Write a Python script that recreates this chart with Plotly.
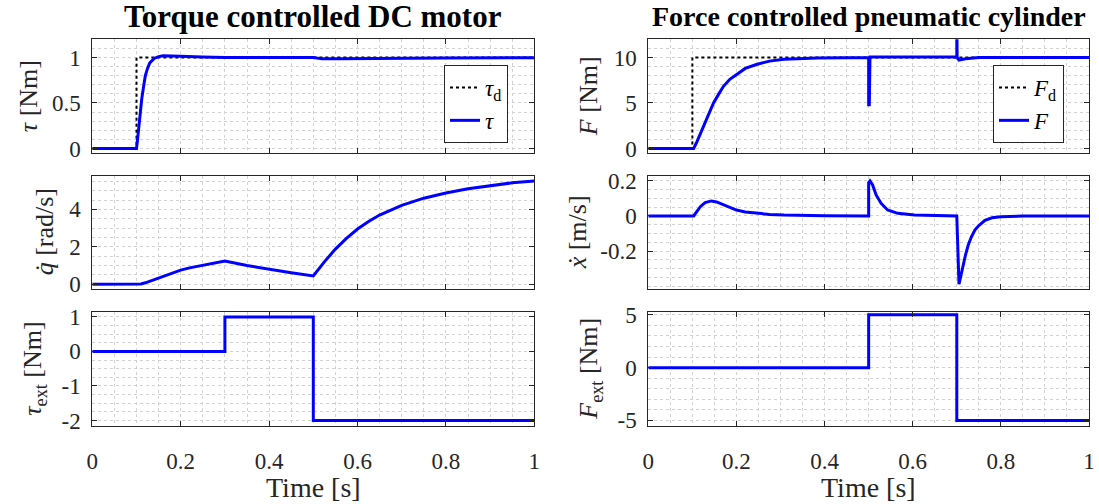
import plotly.graph_objects as go
from plotly.subplots import make_subplots

# ---------------- data ----------------
# Torque controlled DC motor
tau_d_t = [0, 0.1, 0.1, 1.0]
tau_d_v = [0, 0, 1, 1]

tau_t = [0, 0.1, 0.102, 0.105, 0.108, 0.112, 0.116, 0.12, 0.125, 0.13, 0.14, 0.15,
         0.16, 0.18, 0.2, 0.25, 0.3, 0.5, 0.52, 0.56, 0.65, 0.8, 1.0]
tau_v = [0, 0, 0.08, 0.25, 0.4, 0.55, 0.68, 0.8, 0.88, 0.94, 0.99, 1.01,
         1.02, 1.02, 1.015, 1.005, 1.0, 1.0, 0.985, 0.985, 0.99, 0.995, 0.998]

qd_t = [0, 0.1, 0.11, 0.12, 0.14, 0.16, 0.18, 0.2, 0.22, 0.25, 0.28, 0.3,
        0.35, 0.4, 0.45, 0.5, 0.525, 0.55, 0.575, 0.6, 0.625, 0.65, 0.675, 0.7,
        0.75, 0.8, 0.85, 0.9, 0.95, 1.0]
qd_v = [0, 0, 0.02, 0.08, 0.25, 0.42, 0.6, 0.76, 0.88, 1.03, 1.16, 1.24,
        1.0, 0.8, 0.62, 0.45, 1.2, 1.88, 2.45, 2.95, 3.35, 3.7, 3.98, 4.22,
        4.6, 4.88, 5.1, 5.28, 5.42, 5.52]

tau_ext_t = [0, 0.3, 0.3, 0.5, 0.5, 1.0]
tau_ext_v = [0, 0, 1, 1, -2, -2]

# Force controlled pneumatic cylinder
F_d_t = [0, 0.1, 0.1, 1.0]
F_d_v = [0, 0, 10, 10]

F_t = [0, 0.1, 0.103, 0.11, 0.118, 0.126, 0.135, 0.148, 0.16, 0.171, 0.185, 0.2,
       0.22, 0.247, 0.275, 0.308, 0.35, 0.384, 0.45, 0.5, 0.5, 0.5015, 0.503,
       0.6, 0.7, 0.7, 0.7008, 0.705, 0.72, 0.75, 0.8, 1.0]
F_v = [0, 0, 0, 0.7, 1.6, 2.43, 3.5, 5.0, 6.0, 6.86, 7.6, 8.15,
       8.8, 9.26, 9.6, 9.8, 9.9, 9.95, 9.97, 9.97, 4.8, 4.8, 10.05,
       10.05, 10.05, 15.0, 10.0, 9.72, 9.85, 10.0, 10.0, 10.0]

xd_t = [0, 0.1, 0.103, 0.11, 0.118, 0.129, 0.143, 0.155, 0.171, 0.185, 0.2, 0.22,
        0.247, 0.275, 0.308, 0.35, 0.4, 0.5, 0.5, 0.503, 0.509, 0.517, 0.528,
        0.543, 0.566, 0.604, 0.65, 0.7, 0.705, 0.71, 0.714, 0.72, 0.726, 0.733,
        0.741, 0.75, 0.764, 0.78, 0.8, 0.85, 1.0]
xd_v = [0, 0, 0, 0.025, 0.053, 0.076, 0.086, 0.08, 0.063, 0.047, 0.034, 0.023,
        0.015, 0.009, 0.005, 0.002, 0.001, 0, 0.19, 0.2, 0.177, 0.12, 0.073,
        0.034, 0.015, 0.006, 0.002, 0, -0.39, -0.33, -0.28, -0.22, -0.166, -0.12,
        -0.08, -0.055, -0.025, -0.01, -0.004, 0, 0]

F_ext_t = [0, 0.5, 0.5, 0.7, 0.7, 1.0]
F_ext_v = [0, 0, 5, 5, -5, -5]

x_ticks = [0, 0.2, 0.4, 0.6, 0.8, 1]
x_ticktext = ["0", "0.2", "0.4", "0.6", "0.8", "1"]

# ---------------- figure ----------------
W, H = 1099, 504
FONT = "Liberation Serif"
BLUE = "#0000FF"
AX = "#262626"
GRID = "#d2d2d2"

fig = make_subplots(rows=3, cols=2)

def add(row, col, t, v, color, dash, width, name=None, legend=None):
    fig.add_trace(go.Scatter(
        x=t, y=v, mode="lines", name=name if name else "",
        line=dict(color=color, dash=dash, width=width),
        showlegend=name is not None, legend=legend,
        hoverinfo="skip"), row=row, col=col)

add(1, 1, tau_d_t, tau_d_v, "black", "dot", 2, "<i>τ</i><sub>d</sub>", "legend")
add(1, 1, tau_t, tau_v, BLUE, "solid", 3, "<i>τ</i>", "legend")
add(2, 1, qd_t, qd_v, BLUE, "solid", 3)
add(3, 1, tau_ext_t, tau_ext_v, BLUE, "solid", 3)
add(1, 2, F_d_t, F_d_v, "black", "dot", 2, "<i>F</i><sub>d</sub>", "legend2")
add(1, 2, F_t, F_v, BLUE, "solid", 3, "<i>F</i>", "legend2")
add(2, 2, xd_t, xd_v, BLUE, "solid", 3)
add(3, 2, F_ext_t, F_ext_v, BLUE, "solid", 3)

# domains in pixels
xdom = {1: (92.3, 534.3), 2: (648.3, 1089.0)}
ydom = {1: (39.3, 153.0), 2: (175.7, 289.0), 3: (311.7, 425.7)}

yspec = {
    (1, 1): dict(range=[-0.05, 1.2], vals=[0, 0.5, 1], text=["0", "0.5", "1"], minor=0.1),
    (2, 1): dict(range=[-0.25, 5.8], vals=[0, 2, 4], text=["0", "2", "4"], minor=0.5),
    (3, 1): dict(range=[-2.15, 1.15], vals=[-2, -1, 0, 1], text=["-2", "-1", "0", "1"], minor=0.25),
    (1, 2): dict(range=[-0.5, 12.0], vals=[0, 5, 10], text=["0", "5", "10"], minor=1),
    (2, 2): dict(range=[-0.417, 0.23], vals=[-0.2, 0, 0.2], text=["-0.2", "0", "0.2"], minor=0.05),
    (3, 2): dict(range=[-5.5, 5.3], vals=[-5, 0, 5], text=["-5", "0", "5"], minor=1),
}

TICKFONT = dict(family=FONT, size=23, color=AX)

for r in (1, 2, 3):
    for c in (1, 2):
        x0, x1 = xdom[c]
        yt, yb = ydom[r]
        spec = yspec[(r, c)]
        fig.update_xaxes(
            row=r, col=c,
            domain=[x0 / W, x1 / W], range=[0, 1],
            tickvals=x_ticks, ticktext=x_ticktext,
            showticklabels=(r == 3),
            ticks="inside", ticklen=5, tickcolor=AX, tickwidth=1,
            showline=True, linecolor=AX, linewidth=1, mirror="ticks",
            showgrid=True, gridcolor=GRID, griddash="dot", gridwidth=1,
            minor=dict(dtick=0.05, tick0=0, showgrid=True, gridcolor=GRID,
                       griddash="dot", gridwidth=1),
            zeroline=False, automargin=False,
            tickfont=TICKFONT,
            ticklabelstandoff=15,
        )
        fig.update_yaxes(
            row=r, col=c,
            domain=[1 - yb / H, 1 - yt / H], range=spec["range"],
            tickvals=spec["vals"], ticktext=spec["text"],
            ticks="inside", ticklen=5, tickcolor=AX, tickwidth=1,
            showline=True, linecolor=AX, linewidth=1, mirror="ticks",
            showgrid=True, gridcolor=GRID, griddash="dot", gridwidth=1,
            minor=dict(dtick=spec["minor"], tick0=0, showgrid=True, gridcolor=GRID,
                       griddash="dot", gridwidth=1),
            zeroline=False, automargin=False,
            tickfont=TICKFONT,
            ticklabelstandoff=6,
        )

ann = []
# titles
for c, title, fs in ((1, "Torque controlled DC motor", 31), (2, "Force controlled pneumatic cylinder", 28)):
    ann.append(dict(text="<b>" + title + "</b>", x=sum(xdom[c]) / 2 / W, y=1 - 17 / H,
                    xref="paper", yref="paper", showarrow=False, xanchor="center", yanchor="middle",
                    font=dict(family=FONT, size=fs, color="black")))
# x labels
for c in (1, 2):
    ann.append(dict(text="Time [s]", x=sum(xdom[c]) / 2 / W, y=1 - 487 / H,
                    xref="paper", yref="paper", showarrow=False, xanchor="center", yanchor="middle",
                    font=dict(family=FONT, size=28, color=AX)))
# y labels
ylabels = {
    (1, 1): ("<i>τ</i> [Nm]", 28), (2, 1): ("<i>q̇</i> [rad/s]", 44), (3, 1): ("<i>τ</i><sub>ext</sub> [Nm]", 34),
    (1, 2): ("<i>F</i> [Nm]", 588), (2, 2): ("<i>ẋ</i> [m/s]", 577), (3, 2): ("<i>F</i><sub>ext</sub> [Nm]", 590),
}
for (r, c), (txt, xp) in ylabels.items():
    yc = sum(ydom[r]) / 2
    ann.append(dict(text=txt, x=xp / W, y=1 - yc / H, xref="paper", yref="paper",
                    showarrow=False, xanchor="center", yanchor="middle", textangle=-90,
                    font=dict(family=FONT, size=26, color=AX)))

legend_common = dict(bgcolor="white", bordercolor=AX, borderwidth=1,
                     font=dict(family=FONT, size=23, color="black"),
                     itemwidth=30, tracegroupgap=0, xanchor="right", yanchor="top")

fig.update_layout(
    width=W, height=H, margin=dict(l=0, r=0, t=0, b=0),
    paper_bgcolor="white", plot_bgcolor="white",
    font=dict(family=FONT, size=23, color=AX),
    annotations=ann,
    legend=dict(x=508 / W, y=1 - 65 / H, **legend_common),
    legend2=dict(x=1064 / W, y=1 - 65 / H, **legend_common),
    showlegend=True,
)

fig.write_html("out.html")
